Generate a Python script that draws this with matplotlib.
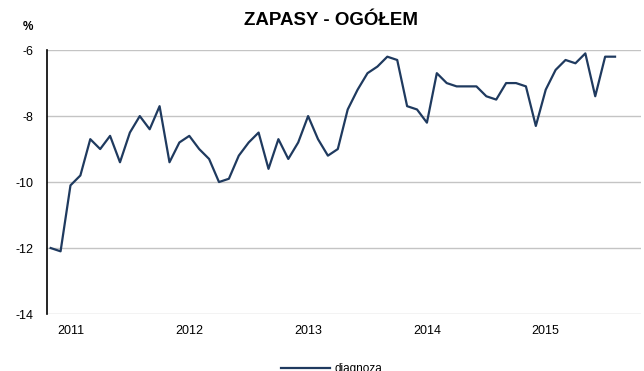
import numpy as np
import matplotlib
matplotlib.use("Agg")
import matplotlib.pyplot as plt

plt.rcParams['font.family'] = ['Liberation Sans', 'DejaVu Sans']

# monthly balance, Nov 2010 - Aug 2015
diagnoza = [-12.0, -12.1, -10.1, -9.8, -8.7, -9.0, -8.6, -9.4, -8.5, -8.0,
            -8.4, -7.7, -9.4, -8.8, -8.6, -9.0, -9.3, -10.0, -9.9, -9.2,
            -8.8, -8.5, -9.6, -8.7, -9.3, -8.8, -8.0, -8.7, -9.2, -9.0,
            -7.8, -7.2, -6.7, -6.5, -6.2, -6.3, -7.7, -7.8, -8.2, -6.7,
            -7.0, -7.1, -7.1, -7.1, -7.4, -7.5, -7.0, -7.0, -7.1, -8.3,
            -7.2, -6.6, -6.3, -6.4, -6.1, -7.4, -6.2, -6.2]
years = ['2011', '2012', '2013', '2014', '2015']
year_pos = [2, 14, 26, 38, 50]   # January of each year
y_ticks = [-14, -12, -10, -8, -6]

x = np.arange(len(diagnoza))

fig = plt.figure(figsize=(6.44, 3.71), dpi=100)
ax = fig.add_axes([0.073, 0.1536, 0.922, 0.7114])

ax.plot(x, diagnoza, color='#1f3a5f', lw=1.6, label='diagnoza')

ax.set_xlim(-0.37, 59.6)
ax.set_ylim(-14, -6)
ax.set_yticks(y_ticks)
ax.set_yticklabels([str(v) for v in y_ticks])
ax.set_xticks(year_pos)
ax.set_xticklabels(years)
ax.tick_params(axis='both', length=0, labelsize=9, colors='black')
ax.tick_params(axis='y', pad=10)
ax.tick_params(axis='x', pad=8)

ax.grid(axis='y', color='#c4c4c4', lw=1)
ax.set_axisbelow(True)
for s in ['top', 'right', 'bottom']:
    ax.spines[s].set_visible(False)
ax.spines['left'].set_color('black')
ax.spines['left'].set_linewidth(1.2)

fig.text(0.514, 0.946, 'ZAPASY - OGÓŁEM', ha='center', va='center',
         fontsize=13.5, fontweight='bold')
fig.text(0.044, 0.927, '%', ha='center', va='center', fontsize=8.5,
         fontweight='bold')

fig.legend(loc='center', bbox_to_anchor=(0.515, 0.005), frameon=False,
           fontsize=8.5, handlelength=4.2, handletextpad=0.4)

fig.savefig('out.png', dpi=100)
